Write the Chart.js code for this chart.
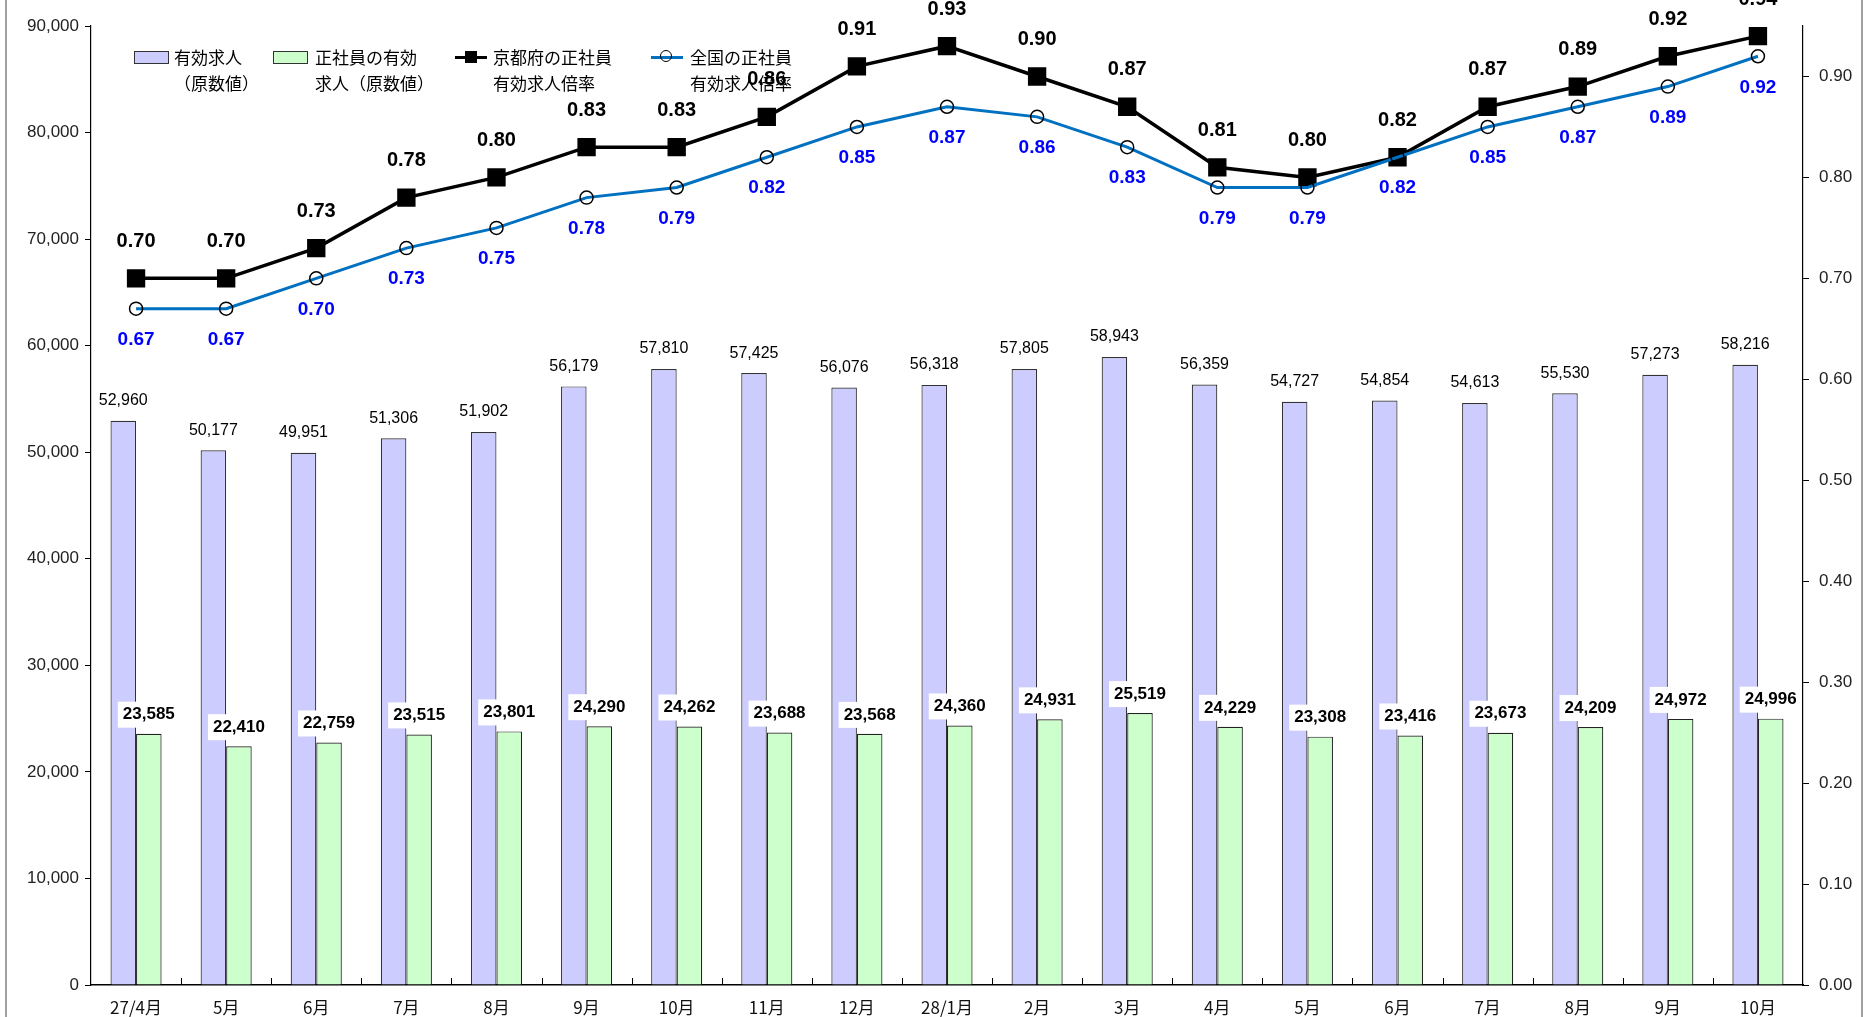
<!DOCTYPE html>
<html>
<head>
<meta charset="utf-8">
<script src="https://cdn.jsdelivr.net/npm/chart.js@4.4.1/dist/chart.umd.min.js"></script>
<style>
  html, body { margin: 0; padding: 0; background: #fff; }
  #wrap { position: relative; width: 1867px; height: 1017px; overflow: hidden; }
  #chart { position: absolute; left: 0; top: 0; }
  .frame { position: absolute; top: 0; bottom: 0; width: 2px; background: #a0a0a0; }
  .lg { position: absolute; font-family: "Noto Sans CJK JP", sans-serif; font-size: 17px; line-height: 26px; color: #000; white-space: nowrap; }
  .sw { position: absolute; }
</style>
</head>
<body>
<div id="wrap">
  <canvas id="chart" width="1867" height="1017"></canvas>
  <div class="frame" style="left:5px"></div>
  <div class="frame" style="left:1861px"></div>

  <!-- legend -->
  <div class="sw" style="left:134px;top:51px;width:33px;height:11px;background:#ccccff;border:1px solid #333"></div>
  <div class="lg" style="left:174px;top:44px">有効求人<br>（原数値）</div>
  <div class="sw" style="left:273px;top:51px;width:33px;height:11px;background:#ccffcc;border:1px solid #333"></div>
  <div class="lg" style="left:315px;top:44px">正社員の有効<br>求人（原数値）</div>
  <div class="sw" style="left:455px;top:56px;width:32px;height:3px;background:#000"></div>
  <div class="sw" style="left:465px;top:51px;width:12px;height:12px;background:#000"></div>
  <div class="lg" style="left:493px;top:44px">京都府の正社員<br>有効求人倍率</div>
  <div class="sw" style="left:651px;top:56px;width:32px;height:3px;background:#0070c0"></div>
  <div class="sw" style="left:660px;top:50px;width:12px;height:12px;border:1.5px solid #000;border-radius:50%;box-sizing:border-box"></div>
  <div class="lg" style="left:690px;top:44px">全国の正社員<br>有効求人倍率</div>
</div>
<script>
const months = ["27/4月", "5月", "6月", "7月", "8月", "9月", "10月", "11月", "12月", "28/1月",
  "2月", "3月", "4月", "5月", "6月", "7月", "8月", "9月", "10月"]

// 有効求人（原数値）
const openings = [52960, 50177, 49951, 51306, 51902, 56179, 57810, 57425, 56076, 56318,
  57805, 58943, 56359, 54727, 54854, 54613, 55530, 57273, 58216]

// 正社員の有効求人（原数値）
const regularOpenings = [23585, 22410, 22759, 23515, 23801, 24290, 24262, 23688, 23568, 24360,
  24931, 25519, 24229, 23308, 23416, 23673, 24209, 24972, 24996]

// 京都府の正社員有効求人倍率
const kyotoRatio = [0.70, 0.70, 0.73, 0.78, 0.80, 0.83, 0.83, 0.86, 0.91, 0.93,
  0.90, 0.87, 0.81, 0.80, 0.82, 0.87, 0.89, 0.92, 0.94]

// 全国の正社員有効求人倍率
const nationalRatio = [0.67, 0.67, 0.70, 0.73, 0.75, 0.78, 0.79, 0.82, 0.85, 0.87,
  0.86, 0.83, 0.79, 0.79, 0.82, 0.85, 0.87, 0.89, 0.92]

const numFont = '"Liberation Sans", Arial, sans-serif'

// value labels drawn at element positions
const valueLabels = {
  id: "valueLabels",
  afterDatasetsDraw(chart) {
    const ctx = chart.ctx
    ctx.save()
    ctx.textAlign = "center"
    ctx.textBaseline = "middle"
    chart.data.datasets.forEach((ds, di) => {
      const meta = chart.getDatasetMeta(di)
      meta.data.forEach((el, i) => {
        const v = ds.data[i]
        if (di === 0) {
          ctx.font = "16px " + numFont
          ctx.fillStyle = "#000"
          ctx.fillText(v.toLocaleString("en-US"), el.x, el.y - 20)
        } else if (di === 1) {
          const t = v.toLocaleString("en-US")
          ctx.font = "bold 17px " + numFont
          const w = ctx.measureText(t).width + 10
          ctx.fillStyle = "#fff"
          ctx.fillRect(el.x - w / 2, el.y - 19 - 13, w, 26)
          ctx.fillStyle = "#000"
          ctx.fillText(t, el.x, el.y - 19)
        } else if (di === 2) {
          ctx.font = "bold 20px " + numFont
          ctx.fillStyle = "#000"
          ctx.fillText(v.toFixed(2), el.x, el.y - 37)
        } else if (di === 3) {
          ctx.font = "bold 19px " + numFont
          ctx.fillStyle = "#0000ff"
          ctx.fillText(v.toFixed(2), el.x, el.y + 31)
        }
      })
    })
    ctx.restore()
  },
  afterDraw(chart) {
    // small upward ticks on the category boundaries
    const xs = chart.scales.x
    const ctx = chart.ctx
    const n = months.length
    ctx.save()
    ctx.strokeStyle = "#000"
    ctx.lineWidth = 1
    for (let i = 1; i < n; i++) {
      const x = Math.round(xs.left + (i * xs.width) / n) + 0.5
      ctx.beginPath()
      ctx.moveTo(x, xs.top)
      ctx.lineTo(x, xs.top - 7)
      ctx.stroke()
    }
    ctx.restore()
  },
}

new Chart(document.getElementById("chart"), {
  type: "bar",
  data: {
    labels: months,
    datasets: [
      {
        label: "有効求人（原数値）",
        data: openings,
        backgroundColor: "#ccccff",
        borderColor: "#333",
        borderWidth: 1.2,
        yAxisID: "y",
        order: 2,
      },
      {
        label: "正社員の有効求人（原数値）",
        data: regularOpenings,
        backgroundColor: "#ccffcc",
        borderColor: "#222",
        borderWidth: 1.2,
        yAxisID: "y",
        order: 2,
      },
      {
        type: "line",
        label: "京都府の正社員有効求人倍率",
        data: kyotoRatio,
        borderColor: "#000",
        borderWidth: 3.5,
        pointStyle: "rect",
        pointRadius: 10.5,
        pointBackgroundColor: "#000",
        pointBorderColor: "#000",
        tension: 0,
        yAxisID: "y1",
        order: 1,
      },
      {
        type: "line",
        label: "全国の正社員有効求人倍率",
        data: nationalRatio,
        borderColor: "#0070c0",
        borderWidth: 3,
        pointStyle: "circle",
        pointRadius: 6.5,
        pointBackgroundColor: "rgba(0,0,0,0)",
        pointBorderColor: "#000",
        pointBorderWidth: 1.5,
        tension: 0,
        yAxisID: "y1",
        order: 0,
      },
    ],
  },
  options: {
    responsive: false,
    animation: false,
    devicePixelRatio: 1,
    categoryPercentage: 0.567,
    barPercentage: 1,
    layout: { padding: { top: 26, left: 0, right: 0, bottom: 0 } },
    plugins: {
      legend: { display: false },
      tooltip: { enabled: false },
    },
    scales: {
      x: {
        grid: { display: false, drawTicks: false },
        border: { color: "#000", width: 1.5 },
        ticks: {
          padding: 12,
          color: "#111",
          font: { family: '"Noto Sans CJK JP", sans-serif', size: 17 },
        },
        afterFit: (s) => { s.height = 32 },
      },
      y: {
        position: "left",
        min: 0,
        max: 90000,
        grid: { drawOnChartArea: false, color: "#000", tickLength: 6 },
        border: { color: "#000", width: 1.2 },
        ticks: {
          stepSize: 10000,
          padding: 6,
          color: "#222",
          font: { family: '"Liberation Sans Narrow", "Liberation Sans", sans-serif', size: 17 },
          callback: (v) => v.toLocaleString("en-US"),
        },
        afterFit: (s) => { s.width = 91 },
      },
      y1: {
        position: "right",
        min: 0,
        max: 0.95,
        grid: { drawOnChartArea: false, color: "#000", tickLength: 6 },
        border: { color: "#000", width: 1.2 },
        ticks: {
          stepSize: 0.1,
          padding: 10,
          color: "#222",
          font: { family: '"Liberation Sans Narrow", "Liberation Sans", sans-serif', size: 17 },
          callback: (v) => v.toFixed(2),
        },
        afterBuildTicks: (s) => { s.ticks = s.ticks.filter((t) => t.value <= 0.9001) },
        afterFit: (s) => { s.width = 64 },
      },
    },
  },
  plugins: [valueLabels],
})
</script>
</body>
</html>
